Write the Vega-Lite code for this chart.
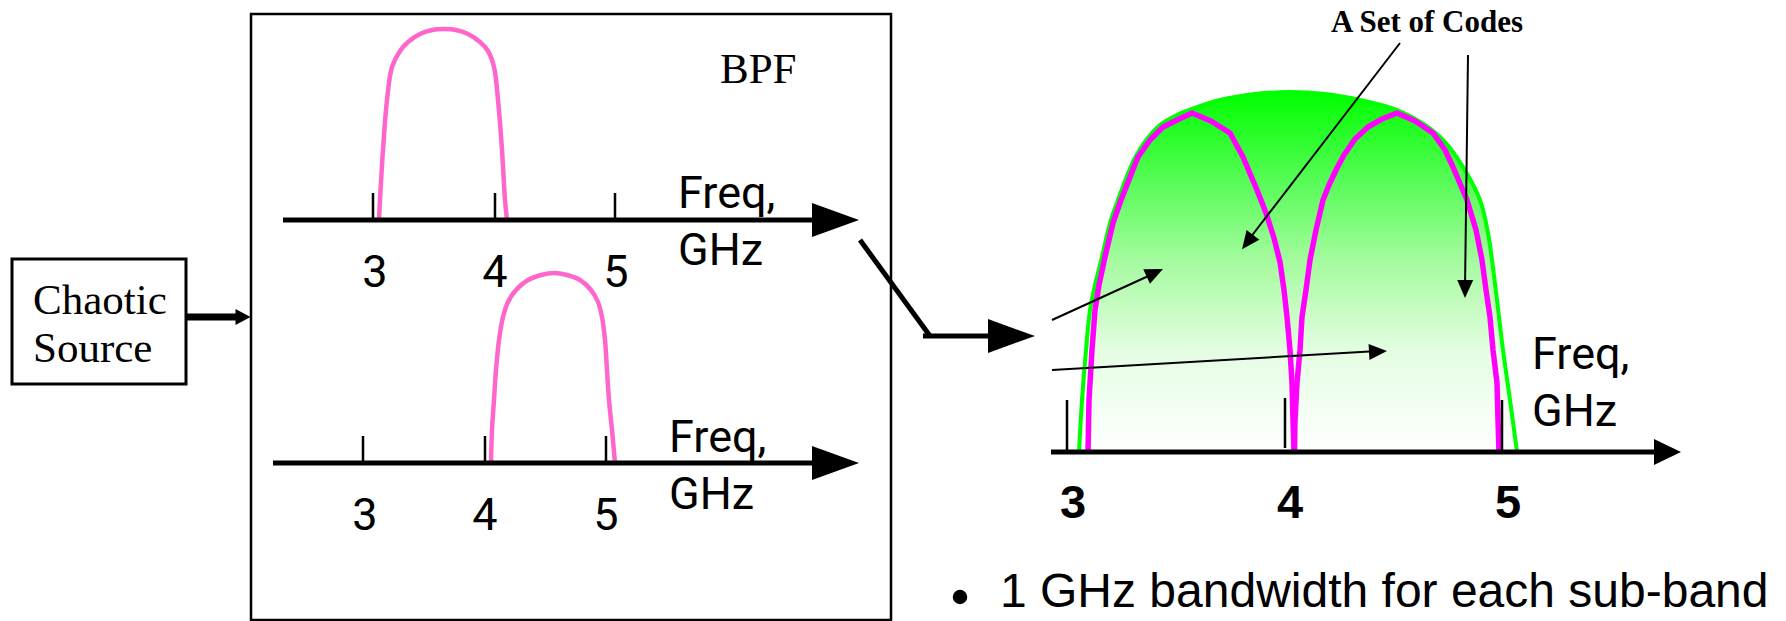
{
  "$schema": "https://vega.github.io/schema/vega-lite/v6.json",
  "width": 1786,
  "height": 621,
  "padding": 0,
  "autosize": {"type": "none"},
  "background": "white",
  "config": {"view": {"stroke": null}},
  "datasets": {
    "boxes": [
      {"x": 12, "y": 259, "x2": 186, "y2": 384, "k": "src"},
      {"x": 251, "y": 14, "x2": 891, "y2": 620, "k": "bpf"}
    ],
    "green": [
      {"x": 1079, "y": 452, "b": 452}, {"x": 1082, "y": 400, "b": 452}, {"x": 1086, "y": 350, "b": 452},
      {"x": 1090, "y": 310, "b": 452}, {"x": 1095, "y": 285, "b": 452}, {"x": 1102, "y": 257, "b": 452},
      {"x": 1110, "y": 223, "b": 452}, {"x": 1118, "y": 200, "b": 452}, {"x": 1122, "y": 189, "b": 452},
      {"x": 1129, "y": 171, "b": 452}, {"x": 1136, "y": 156, "b": 452}, {"x": 1147, "y": 139, "b": 452},
      {"x": 1160, "y": 125, "b": 452}, {"x": 1175, "y": 116, "b": 452}, {"x": 1192, "y": 109, "b": 452},
      {"x": 1220, "y": 100, "b": 452}, {"x": 1255, "y": 94, "b": 452},
      {"x": 1290, "y": 92, "b": 452}, {"x": 1325, "y": 94, "b": 452}, {"x": 1360, "y": 100, "b": 452},
      {"x": 1397, "y": 110, "b": 452}, {"x": 1425, "y": 125, "b": 452}, {"x": 1445, "y": 142, "b": 452},
      {"x": 1463, "y": 167, "b": 452}, {"x": 1480, "y": 200, "b": 452}, {"x": 1488, "y": 233, "b": 452},
      {"x": 1492, "y": 260, "b": 452}, {"x": 1497, "y": 300, "b": 452}, {"x": 1503, "y": 350, "b": 452},
      {"x": 1510, "y": 400, "b": 452}, {"x": 1517, "y": 452, "b": 452}
    ],
    "curves": [
      {"id": "bpf1", "x": 379, "y": 220}, {"id": "bpf1", "x": 380, "y": 200}, {"id": "bpf1", "x": 383, "y": 150},
      {"id": "bpf1", "x": 387, "y": 100}, {"id": "bpf1", "x": 392, "y": 67}, {"id": "bpf1", "x": 400, "y": 51},
      {"id": "bpf1", "x": 408, "y": 42}, {"id": "bpf1", "x": 420, "y": 34}, {"id": "bpf1", "x": 432, "y": 30},
      {"id": "bpf1", "x": 444, "y": 29}, {"id": "bpf1", "x": 456, "y": 30}, {"id": "bpf1", "x": 468, "y": 34},
      {"id": "bpf1", "x": 480, "y": 42}, {"id": "bpf1", "x": 488, "y": 51}, {"id": "bpf1", "x": 494, "y": 67},
      {"id": "bpf1", "x": 498, "y": 100}, {"id": "bpf1", "x": 502, "y": 150}, {"id": "bpf1", "x": 505, "y": 200},
      {"id": "bpf1", "x": 507, "y": 220},
      {"id": "bpf2", "x": 491, "y": 463}, {"id": "bpf2", "x": 492, "y": 430}, {"id": "bpf2", "x": 494, "y": 400},
      {"id": "bpf2", "x": 496, "y": 370}, {"id": "bpf2", "x": 499, "y": 340}, {"id": "bpf2", "x": 503, "y": 317},
      {"id": "bpf2", "x": 508, "y": 302}, {"id": "bpf2", "x": 516, "y": 290}, {"id": "bpf2", "x": 528, "y": 280},
      {"id": "bpf2", "x": 541, "y": 275}, {"id": "bpf2", "x": 554, "y": 273}, {"id": "bpf2", "x": 567, "y": 275},
      {"id": "bpf2", "x": 580, "y": 280}, {"id": "bpf2", "x": 591, "y": 290}, {"id": "bpf2", "x": 598, "y": 302},
      {"id": "bpf2", "x": 602, "y": 317}, {"id": "bpf2", "x": 605, "y": 340}, {"id": "bpf2", "x": 607, "y": 370},
      {"id": "bpf2", "x": 609, "y": 400}, {"id": "bpf2", "x": 612, "y": 430}, {"id": "bpf2", "x": 615, "y": 463},
      {"id": "m1", "x": 1088, "y": 452}, {"id": "m1", "x": 1089, "y": 400}, {"id": "m1", "x": 1092, "y": 350},
      {"id": "m1", "x": 1095, "y": 310}, {"id": "m1", "x": 1099, "y": 285}, {"id": "m1", "x": 1105, "y": 257},
      {"id": "m1", "x": 1113, "y": 223}, {"id": "m1", "x": 1121, "y": 200}, {"id": "m1", "x": 1125, "y": 190},
      {"id": "m1", "x": 1132, "y": 172}, {"id": "m1", "x": 1138, "y": 157}, {"id": "m1", "x": 1150, "y": 140},
      {"id": "m1", "x": 1163, "y": 127}, {"id": "m1", "x": 1177, "y": 120}, {"id": "m1", "x": 1192, "y": 113},
      {"id": "m1", "x": 1211, "y": 121}, {"id": "m1", "x": 1230, "y": 133}, {"id": "m1", "x": 1243, "y": 157},
      {"id": "m1", "x": 1257, "y": 190}, {"id": "m1", "x": 1266, "y": 213}, {"id": "m1", "x": 1274, "y": 238},
      {"id": "m1", "x": 1280, "y": 262}, {"id": "m1", "x": 1284, "y": 290},
      {"id": "m1", "x": 1287, "y": 317}, {"id": "m1", "x": 1290, "y": 350}, {"id": "m1", "x": 1292, "y": 383},
      {"id": "m1", "x": 1293, "y": 420}, {"id": "m1", "x": 1294, "y": 452},
      {"id": "m2", "x": 1294.5, "y": 452}, {"id": "m2", "x": 1295, "y": 420}, {"id": "m2", "x": 1297, "y": 383},
      {"id": "m2", "x": 1300, "y": 350}, {"id": "m2", "x": 1302, "y": 317}, {"id": "m2", "x": 1306, "y": 290},
      {"id": "m2", "x": 1310, "y": 260}, {"id": "m2", "x": 1316, "y": 230}, {"id": "m2", "x": 1323, "y": 200},
      {"id": "m2", "x": 1329, "y": 185}, {"id": "m2", "x": 1337, "y": 168}, {"id": "m2", "x": 1344, "y": 155},
      {"id": "m2", "x": 1355, "y": 139}, {"id": "m2", "x": 1368, "y": 127}, {"id": "m2", "x": 1382, "y": 119},
      {"id": "m2", "x": 1397, "y": 113}, {"id": "m2", "x": 1415, "y": 121},
      {"id": "m2", "x": 1433, "y": 133}, {"id": "m2", "x": 1445, "y": 150}, {"id": "m2", "x": 1453, "y": 167},
      {"id": "m2", "x": 1467, "y": 200}, {"id": "m2", "x": 1476, "y": 230}, {"id": "m2", "x": 1482, "y": 260},
      {"id": "m2", "x": 1486, "y": 290}, {"id": "m2", "x": 1490, "y": 317}, {"id": "m2", "x": 1493, "y": 350},
      {"id": "m2", "x": 1497, "y": 383}, {"id": "m2", "x": 1498, "y": 420}, {"id": "m2", "x": 1499, "y": 452}
    ],
    "segs": [
      {"k": "axis", "x": 283, "y": 220, "x2": 815, "y2": 220},
      {"k": "axis", "x": 273, "y": 463, "x2": 815, "y2": 463},
      {"k": "axis", "x": 1051, "y": 452, "x2": 1658, "y2": 452},
      {"k": "axis", "x": 860, "y": 240, "x2": 930, "y2": 336},
      {"k": "axis", "x": 923, "y": 336, "x2": 992, "y2": 336},
      {"k": "src", "x": 187, "y": 317, "x2": 240, "y2": 317},
      {"k": "tick", "x": 373, "y": 193, "x2": 373, "y2": 220},
      {"k": "tick", "x": 495, "y": 193, "x2": 495, "y2": 220},
      {"k": "tick", "x": 615, "y": 193, "x2": 615, "y2": 220},
      {"k": "tick", "x": 363, "y": 436, "x2": 363, "y2": 463},
      {"k": "tick", "x": 485, "y": 436, "x2": 485, "y2": 463},
      {"k": "tick", "x": 606, "y": 436, "x2": 606, "y2": 463},
      {"k": "tick", "x": 1067, "y": 400, "x2": 1067, "y2": 452},
      {"k": "tick", "x": 1285, "y": 398, "x2": 1285, "y2": 448},
      {"k": "tick", "x": 1502, "y": 400, "x2": 1502, "y2": 452},
      {"k": "thin", "x": 1400, "y": 43, "x2": 1247, "y2": 242},
      {"k": "thin", "x": 1468, "y": 55, "x2": 1465, "y2": 289},
      {"k": "thin", "x": 1052, "y": 320, "x2": 1155, "y2": 273},
      {"k": "thin", "x": 1052, "y": 370, "x2": 1378, "y2": 351}
    ],
    "heads": [
      {"k": "big", "x": 835.5, "y": 220, "a": 0},
      {"k": "big", "x": 835.5, "y": 463, "a": 0},
      {"k": "big", "x": 1011.5, "y": 336, "a": 0},
      {"k": "rax", "x": 1667.5, "y": 452, "a": 0},
      {"k": "src", "x": 243, "y": 317, "a": 0},
      {"k": "thin", "x": 1247.5, "y": 242, "a": 127.5},
      {"k": "thin", "x": 1465.1, "y": 289, "a": 90.7},
      {"k": "thin", "x": 1154.8, "y": 272.8, "a": 335.3},
      {"k": "thin", "x": 1378, "y": 351.5, "a": 356.8}
    ],
    "texts": [
      {"k": "serif", "x": 33, "y": 314, "t": "Chaotic"},
      {"k": "serif", "x": 33, "y": 362, "t": "Source"},
      {"k": "serif", "x": 720, "y": 83, "t": "BPF"},
      {"k": "gdigit", "x": 375, "y": 287, "t": "3"},
      {"k": "gdigit", "x": 495, "y": 287, "t": "4"},
      {"k": "gdigit", "x": 616, "y": 287, "t": "5"},
      {"k": "gdigit", "x": 365, "y": 530, "t": "3"},
      {"k": "gdigit", "x": 485, "y": 530, "t": "4"},
      {"k": "gdigit", "x": 606, "y": 530, "t": "5"},
      {"k": "glabel", "x": 678, "y": 208, "t": "Freq,"},
      {"k": "glabel", "x": 678, "y": 265, "t": "GHz"},
      {"k": "glabel", "x": 669, "y": 452, "t": "Freq,"},
      {"k": "glabel", "x": 669, "y": 509, "t": "GHz"},
      {"k": "glabel", "x": 1532, "y": 369, "t": "Freq,"},
      {"k": "glabel", "x": 1532, "y": 426, "t": "GHz"},
      {"k": "bdigit", "x": 1073, "y": 518, "t": "3"},
      {"k": "bdigit", "x": 1290, "y": 518, "t": "4"},
      {"k": "bdigit", "x": 1508, "y": 518, "t": "5"},
      {"k": "title", "x": 1427, "y": 32, "t": "A Set of Codes"},
      {"k": "bullet", "x": 1000, "y": 607, "t": "1 GHz bandwidth for each sub-band"}
    ],
    "dots": [
      {"x": 960, "y": 597}
    ]
  },
  "encoding": {
    "x": {"field": "x", "type": "quantitative", "scale": {"domain": [0, 1786], "nice": false, "zero": false}, "axis": null},
    "y": {"field": "y", "type": "quantitative", "scale": {"domain": [0, 621], "nice": false, "zero": false, "reverse": true}, "axis": null}
  },
  "layer": [
    {
      "data": {"name": "boxes"},
      "transform": [{"filter": "datum.k == 'bpf'"}],
      "mark": {"type": "rect", "filled": false, "stroke": "black", "strokeWidth": 2.5},
      "encoding": {"x2": {"field": "x2"}, "y2": {"field": "y2"}}
    },
    {
      "data": {"name": "boxes"},
      "transform": [{"filter": "datum.k == 'src'"}],
      "mark": {"type": "rect", "filled": false, "stroke": "black", "strokeWidth": 3},
      "encoding": {"x2": {"field": "x2"}, "y2": {"field": "y2"}}
    },
    {
      "data": {"name": "green"},
      "mark": {
        "type": "area",
        "interpolate": "catmull-rom",
        "color": {
          "gradient": "linear", "x1": 0, "y1": 0, "x2": 0, "y2": 1,
          "stops": [
            {"offset": 0, "color": "#00ff00"},
            {"offset": 0.22, "color": "#4dfc4d"},
            {"offset": 0.47, "color": "#a5fb9f"},
            {"offset": 0.72, "color": "#e4fde2"},
            {"offset": 1, "color": "#ffffff"}
          ]
        }
      },
      "encoding": {"y2": {"field": "b"}}
    },
    {
      "data": {"name": "green"},
      "mark": {"type": "line", "interpolate": "catmull-rom", "color": "#00ff00", "strokeWidth": 4},
      "encoding": {}
    },
    {
      "data": {"name": "curves"},
      "transform": [{"filter": "datum.id == 'bpf1' || datum.id == 'bpf2'"}],
      "mark": {"type": "line", "interpolate": "catmull-rom", "color": "#ff66cc", "strokeWidth": 4.5},
      "encoding": {"detail": {"field": "id"}}
    },
    {
      "data": {"name": "curves"},
      "transform": [{"filter": "datum.id == 'm1' || datum.id == 'm2'"}],
      "mark": {"type": "line", "interpolate": "linear", "color": "#ff00ff", "strokeWidth": 5.5, "strokeJoin": "round"},
      "encoding": {"detail": {"field": "id"}}
    },
    {
      "data": {"name": "segs"},
      "transform": [{"filter": "datum.k == 'axis'"}],
      "mark": {"type": "rule", "color": "black", "strokeWidth": 5, "strokeCap": "butt"},
      "encoding": {"x2": {"field": "x2"}, "y2": {"field": "y2"}}
    },
    {
      "data": {"name": "segs"},
      "transform": [{"filter": "datum.k == 'src'"}],
      "mark": {"type": "rule", "color": "black", "strokeWidth": 7, "strokeCap": "butt"},
      "encoding": {"x2": {"field": "x2"}, "y2": {"field": "y2"}}
    },
    {
      "data": {"name": "segs"},
      "transform": [{"filter": "datum.k == 'tick'"}],
      "mark": {"type": "rule", "color": "black", "strokeWidth": 2.5, "strokeCap": "butt"},
      "encoding": {"x2": {"field": "x2"}, "y2": {"field": "y2"}}
    },
    {
      "data": {"name": "segs"},
      "transform": [{"filter": "datum.k == 'thin'"}],
      "mark": {"type": "rule", "color": "black", "strokeWidth": 2, "strokeCap": "butt"},
      "encoding": {"x2": {"field": "x2"}, "y2": {"field": "y2"}}
    },
    {
      "data": {"name": "heads"},
      "transform": [{"filter": "datum.k == 'big'"}],
      "mark": {"type": "point", "filled": true, "color": "black", "opacity": 1, "shape": "M-1,-0.72L1,0L-1,0.72Z", "size": 2209},
      "encoding": {}
    },
    {
      "data": {"name": "heads"},
      "transform": [{"filter": "datum.k == 'rax'"}],
      "mark": {"type": "point", "filled": true, "color": "black", "opacity": 1, "shape": "M-1,-0.96L1,0L-1,0.96Z", "size": 729},
      "encoding": {}
    },
    {
      "data": {"name": "heads"},
      "transform": [{"filter": "datum.k == 'src'"}],
      "mark": {"type": "point", "filled": true, "color": "black", "opacity": 1, "shape": "M-1,-1.07L1,0L-1,1.07Z", "size": 225},
      "encoding": {}
    },
    {
      "data": {"name": "heads"},
      "transform": [{"filter": "datum.k == 'thin'"}],
      "mark": {"type": "point", "filled": true, "color": "black", "opacity": 1, "shape": "M-1,-0.89L1,0L-1,0.89Z", "size": 324},
      "encoding": {"angle": {"field": "a", "type": "quantitative", "scale": null}}
    },
    {
      "data": {"name": "dots"},
      "mark": {"type": "point", "filled": true, "shape": "circle", "color": "black", "opacity": 1, "size": 210},
      "encoding": {}
    },
    {
      "data": {"name": "texts"},
      "transform": [{"filter": "datum.k == 'serif'"}],
      "mark": {"type": "text", "font": "Liberation Serif", "fontSize": 43, "align": "left", "baseline": "alphabetic", "color": "black"},
      "encoding": {"text": {"field": "t"}}
    },
    {
      "data": {"name": "texts"},
      "transform": [{"filter": "datum.k == 'gdigit'"}],
      "mark": {"type": "text", "font": "Roboto", "fontSize": 45, "align": "center", "baseline": "alphabetic", "color": "black"},
      "encoding": {"text": {"field": "t"}}
    },
    {
      "data": {"name": "texts"},
      "transform": [{"filter": "datum.k == 'glabel'"}],
      "mark": {"type": "text", "font": "Roboto", "fontSize": 45, "align": "left", "baseline": "alphabetic", "color": "black"},
      "encoding": {"text": {"field": "t"}}
    },
    {
      "data": {"name": "texts"},
      "transform": [{"filter": "datum.k == 'bdigit'"}],
      "mark": {"type": "text", "font": "Liberation Sans", "fontSize": 47, "fontWeight": "bold", "align": "center", "baseline": "alphabetic", "color": "black"},
      "encoding": {"text": {"field": "t"}}
    },
    {
      "data": {"name": "texts"},
      "transform": [{"filter": "datum.k == 'title'"}],
      "mark": {"type": "text", "font": "Liberation Serif", "fontSize": 31, "fontWeight": "bold", "align": "center", "baseline": "alphabetic", "color": "black"},
      "encoding": {"text": {"field": "t"}}
    },
    {
      "data": {"name": "texts"},
      "transform": [{"filter": "datum.k == 'bullet'"}],
      "mark": {"type": "text", "font": "Liberation Sans", "fontSize": 48, "align": "left", "baseline": "alphabetic", "color": "black"},
      "encoding": {"text": {"field": "t"}}
    }
  ]
}
